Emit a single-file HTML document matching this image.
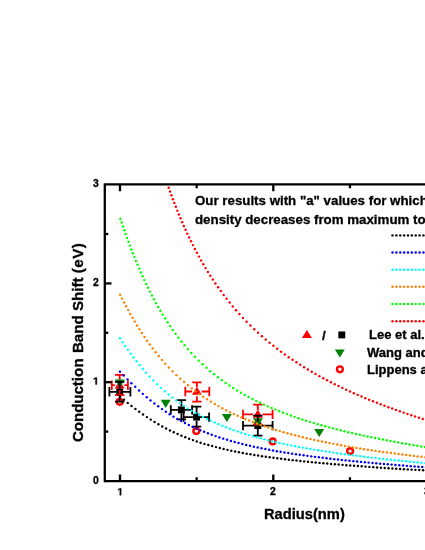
<!DOCTYPE html><html><head><meta charset="utf-8"><title>chart</title><style>
html,body{margin:0;padding:0;background:#fff}
body{width:425px;height:550px;position:relative;overflow:hidden;font-family:"Liberation Sans",sans-serif;font-weight:bold;color:#000}
.t{position:absolute;white-space:nowrap;line-height:1;will-change:transform;-webkit-text-stroke:0.3px #000}
.tk{font-size:10.4px}
</style></head><body>
<svg width="425" height="550" viewBox="0 0 425 550" style="position:absolute;left:0;top:0">
<rect x="0" y="0" width="425" height="550" fill="#fff"/>
<g fill="#000"><circle cx="392.50" cy="235.40" r="1.22"/><circle cx="396.37" cy="235.40" r="1.22"/><circle cx="400.24" cy="235.40" r="1.22"/><circle cx="404.11" cy="235.40" r="1.22"/><circle cx="407.98" cy="235.40" r="1.22"/><circle cx="411.85" cy="235.40" r="1.22"/><circle cx="415.72" cy="235.40" r="1.22"/><circle cx="419.59" cy="235.40" r="1.22"/><circle cx="423.46" cy="235.40" r="1.22"/><circle cx="427.33" cy="235.40" r="1.22"/></g>
<g fill="#0000ff"><circle cx="392.50" cy="252.50" r="1.22"/><circle cx="396.37" cy="252.50" r="1.22"/><circle cx="400.24" cy="252.50" r="1.22"/><circle cx="404.11" cy="252.50" r="1.22"/><circle cx="407.98" cy="252.50" r="1.22"/><circle cx="411.85" cy="252.50" r="1.22"/><circle cx="415.72" cy="252.50" r="1.22"/><circle cx="419.59" cy="252.50" r="1.22"/><circle cx="423.46" cy="252.50" r="1.22"/><circle cx="427.33" cy="252.50" r="1.22"/></g>
<g fill="#00ffff"><circle cx="392.50" cy="269.70" r="1.22"/><circle cx="396.37" cy="269.70" r="1.22"/><circle cx="400.24" cy="269.70" r="1.22"/><circle cx="404.11" cy="269.70" r="1.22"/><circle cx="407.98" cy="269.70" r="1.22"/><circle cx="411.85" cy="269.70" r="1.22"/><circle cx="415.72" cy="269.70" r="1.22"/><circle cx="419.59" cy="269.70" r="1.22"/><circle cx="423.46" cy="269.70" r="1.22"/><circle cx="427.33" cy="269.70" r="1.22"/></g>
<g fill="#ff8000"><circle cx="392.50" cy="286.80" r="1.22"/><circle cx="396.37" cy="286.80" r="1.22"/><circle cx="400.24" cy="286.80" r="1.22"/><circle cx="404.11" cy="286.80" r="1.22"/><circle cx="407.98" cy="286.80" r="1.22"/><circle cx="411.85" cy="286.80" r="1.22"/><circle cx="415.72" cy="286.80" r="1.22"/><circle cx="419.59" cy="286.80" r="1.22"/><circle cx="423.46" cy="286.80" r="1.22"/><circle cx="427.33" cy="286.80" r="1.22"/></g>
<g fill="#00ff00"><circle cx="392.50" cy="304.00" r="1.22"/><circle cx="396.37" cy="304.00" r="1.22"/><circle cx="400.24" cy="304.00" r="1.22"/><circle cx="404.11" cy="304.00" r="1.22"/><circle cx="407.98" cy="304.00" r="1.22"/><circle cx="411.85" cy="304.00" r="1.22"/><circle cx="415.72" cy="304.00" r="1.22"/><circle cx="419.59" cy="304.00" r="1.22"/><circle cx="423.46" cy="304.00" r="1.22"/><circle cx="427.33" cy="304.00" r="1.22"/></g>
<g fill="#ff0000"><circle cx="392.50" cy="321.20" r="1.22"/><circle cx="396.37" cy="321.20" r="1.22"/><circle cx="400.24" cy="321.20" r="1.22"/><circle cx="404.11" cy="321.20" r="1.22"/><circle cx="407.98" cy="321.20" r="1.22"/><circle cx="411.85" cy="321.20" r="1.22"/><circle cx="415.72" cy="321.20" r="1.22"/><circle cx="419.59" cy="321.20" r="1.22"/><circle cx="423.46" cy="321.20" r="1.22"/><circle cx="427.33" cy="321.20" r="1.22"/></g>
<circle cx="119.70" cy="401.80" r="2.9" fill="none" stroke="#ff0000" stroke-width="2.4"/>
<circle cx="196.30" cy="431.10" r="2.9" fill="none" stroke="#ff0000" stroke-width="2.4"/>
<circle cx="272.70" cy="441.40" r="2.9" fill="none" stroke="#ff0000" stroke-width="2.4"/>
<circle cx="350.10" cy="451.10" r="2.9" fill="none" stroke="#ff0000" stroke-width="2.4"/>
<rect x="116.25" y="388.35" width="6.90" height="6.90" fill="#000"/>
<rect x="177.95" y="406.45" width="6.90" height="6.90" fill="#000"/>
<rect x="193.15" y="413.65" width="6.90" height="6.90" fill="#000"/>
<rect x="254.35" y="422.15" width="6.90" height="6.90" fill="#000"/>
<g stroke="#ff0000" stroke-width="1.80" fill="none"><path d="M111.80 385.20H114.90 M124.50 385.20H127.90 M111.80 380.50V389.90 M127.90 380.50V389.90"/><path d="M119.70 374.90V380.80 M119.70 390.00V395.10 M115.00 374.90H124.40 M115.00 395.10H124.40"/></g>
<g stroke="#ff0000" stroke-width="1.80" fill="none"><path d="M185.30 391.50H192.10 M201.70 391.50H209.30 M185.30 386.80V396.20 M209.30 386.80V396.20"/><path d="M196.90 382.30V387.10 M196.90 396.30V401.60 M192.20 382.30H201.60 M192.20 401.60H201.60"/></g>
<g stroke="#ff0000" stroke-width="1.80" fill="none"><path d="M243.00 414.40H253.00 M262.60 414.40H272.60 M243.00 409.70V419.10 M272.60 409.70V419.10"/><path d="M257.80 404.70V410.00 M257.80 419.20V424.60 M253.10 404.70H262.50 M253.10 424.60H262.50"/></g>
<polygon points="119.70,380.40 114.70,388.50 124.70,388.50" fill="#ff0000"/>
<polygon points="196.90,386.70 191.90,394.80 201.90,394.80" fill="#ff0000"/>
<polygon points="257.80,409.60 252.80,417.70 262.80,417.70" fill="#ff0000"/>
<polygon points="114.90,379.40 124.90,379.40 119.90,387.50" fill="#008000"/>
<polygon points="160.70,399.80 170.70,399.80 165.70,407.90" fill="#008000"/>
<polygon points="221.90,413.90 231.90,413.90 226.90,422.00" fill="#008000"/>
<polygon points="252.90,418.20 262.90,418.20 257.90,426.30" fill="#008000"/>
<polygon points="314.20,429.00 324.20,429.00 319.20,437.10" fill="#008000"/>
<g stroke="#000" stroke-width="1.80" fill="none"><path d="M109.40 391.80H116.40 M123.00 391.80H130.40 M109.40 387.10V396.50 M130.40 387.10V396.50"/><path d="M119.70 381.90V388.50 M119.70 395.10V401.70 M115.00 381.90H124.40 M115.00 401.70H124.40"/></g>
<g stroke="#000" stroke-width="1.80" fill="none"><path d="M170.80 409.90H178.10 M184.70 409.90H192.10 M170.80 405.20V414.60 M192.10 405.20V414.60"/><path d="M181.40 400.10V406.60 M181.40 413.20V419.30 M176.70 400.10H186.10 M176.70 419.30H186.10"/></g>
<g stroke="#000" stroke-width="1.80" fill="none"><path d="M183.60 417.10H193.30 M199.90 417.10H209.10 M183.60 412.40V421.80 M209.10 412.40V421.80"/><path d="M196.60 406.60V413.80 M196.60 420.40V426.60 M191.90 406.60H201.30 M191.90 426.60H201.30"/></g>
<g stroke="#000" stroke-width="1.80" fill="none"><path d="M243.00 425.60H254.50 M261.10 425.60H272.60 M243.00 420.90V430.30 M272.60 420.90V430.30"/><path d="M257.80 415.70V422.30 M257.80 428.90V435.60 M253.10 415.70H262.50 M253.10 435.60H262.50"/></g>
<polygon points="306.90,329.90 301.90,338.00 311.90,338.00" fill="#ff0000"/>
<rect x="338.35" y="331.45" width="6.90" height="6.90" fill="#000"/>
<polygon points="334.80,349.50 344.80,349.50 339.80,357.60" fill="#008000"/>
<circle cx="339.90" cy="369.30" r="2.9" fill="none" stroke="#ff0000" stroke-width="2.4"/>
<g fill="#000"><circle cx="120.05" cy="396.68" r="1.22"/><circle cx="123.89" cy="399.81" r="1.22"/><circle cx="127.72" cy="402.90" r="1.22"/><circle cx="131.56" cy="405.93" r="1.22"/><circle cx="135.40" cy="408.88" r="1.22"/><circle cx="139.23" cy="411.73" r="1.22"/><circle cx="143.07" cy="414.48" r="1.22"/><circle cx="146.91" cy="417.11" r="1.22"/><circle cx="150.74" cy="419.62" r="1.22"/><circle cx="154.57" cy="422.02" r="1.22"/><circle cx="158.42" cy="424.30" r="1.22"/><circle cx="162.25" cy="426.46" r="1.22"/><circle cx="166.08" cy="428.51" r="1.22"/><circle cx="169.92" cy="430.45" r="1.22"/><circle cx="173.76" cy="432.29" r="1.22"/><circle cx="177.59" cy="434.03" r="1.22"/><circle cx="181.43" cy="435.68" r="1.22"/><circle cx="185.27" cy="437.24" r="1.22"/><circle cx="189.10" cy="438.72" r="1.22"/><circle cx="192.94" cy="440.12" r="1.22"/><circle cx="196.77" cy="441.44" r="1.22"/><circle cx="200.61" cy="442.70" r="1.22"/><circle cx="204.45" cy="443.89" r="1.22"/><circle cx="208.28" cy="445.01" r="1.22"/><circle cx="212.12" cy="446.08" r="1.22"/><circle cx="215.96" cy="447.10" r="1.22"/><circle cx="219.79" cy="448.07" r="1.22"/><circle cx="223.62" cy="448.99" r="1.22"/><circle cx="227.47" cy="449.86" r="1.22"/><circle cx="231.30" cy="450.70" r="1.22"/><circle cx="235.13" cy="451.49" r="1.22"/><circle cx="238.97" cy="452.25" r="1.22"/><circle cx="242.81" cy="452.98" r="1.22"/><circle cx="246.64" cy="453.67" r="1.22"/><circle cx="250.48" cy="454.34" r="1.22"/><circle cx="254.32" cy="454.97" r="1.22"/><circle cx="258.15" cy="455.58" r="1.22"/><circle cx="261.99" cy="456.17" r="1.22"/><circle cx="265.82" cy="456.73" r="1.22"/><circle cx="269.66" cy="457.27" r="1.22"/><circle cx="273.50" cy="457.80" r="1.22"/><circle cx="277.33" cy="458.30" r="1.22"/><circle cx="281.17" cy="458.79" r="1.22"/><circle cx="285.01" cy="459.26" r="1.22"/><circle cx="288.84" cy="459.71" r="1.22"/><circle cx="292.67" cy="460.15" r="1.22"/><circle cx="296.52" cy="460.57" r="1.22"/><circle cx="300.35" cy="460.99" r="1.22"/><circle cx="304.18" cy="461.39" r="1.22"/><circle cx="308.02" cy="461.78" r="1.22"/><circle cx="311.86" cy="462.15" r="1.22"/><circle cx="315.69" cy="462.52" r="1.22"/><circle cx="319.53" cy="462.88" r="1.22"/><circle cx="323.37" cy="463.23" r="1.22"/><circle cx="327.20" cy="463.57" r="1.22"/><circle cx="331.04" cy="463.91" r="1.22"/><circle cx="334.87" cy="464.23" r="1.22"/><circle cx="338.71" cy="464.55" r="1.22"/><circle cx="342.55" cy="464.86" r="1.22"/><circle cx="346.38" cy="465.17" r="1.22"/><circle cx="350.22" cy="465.47" r="1.22"/><circle cx="354.06" cy="465.76" r="1.22"/><circle cx="357.89" cy="466.05" r="1.22"/><circle cx="361.72" cy="466.33" r="1.22"/><circle cx="365.57" cy="466.61" r="1.22"/><circle cx="369.40" cy="466.89" r="1.22"/><circle cx="373.23" cy="467.15" r="1.22"/><circle cx="377.07" cy="467.42" r="1.22"/><circle cx="380.91" cy="467.68" r="1.22"/><circle cx="384.74" cy="467.94" r="1.22"/><circle cx="388.58" cy="468.19" r="1.22"/><circle cx="392.42" cy="468.44" r="1.22"/><circle cx="396.25" cy="468.68" r="1.22"/><circle cx="400.09" cy="468.92" r="1.22"/><circle cx="403.92" cy="469.16" r="1.22"/><circle cx="407.76" cy="469.40" r="1.22"/><circle cx="411.60" cy="469.63" r="1.22"/><circle cx="415.43" cy="469.86" r="1.22"/><circle cx="419.27" cy="470.08" r="1.22"/><circle cx="423.10" cy="470.31" r="1.22"/><circle cx="426.94" cy="470.53" r="1.22"/><circle cx="430.77" cy="470.74" r="1.22"/></g>
<g fill="#0000ff"><circle cx="119.95" cy="371.74" r="1.22"/><circle cx="123.76" cy="375.57" r="1.22"/><circle cx="127.58" cy="379.39" r="1.22"/><circle cx="131.41" cy="383.16" r="1.22"/><circle cx="135.23" cy="386.84" r="1.22"/><circle cx="139.06" cy="390.41" r="1.22"/><circle cx="142.88" cy="393.87" r="1.22"/><circle cx="146.72" cy="397.19" r="1.22"/><circle cx="150.54" cy="400.38" r="1.22"/><circle cx="154.36" cy="403.42" r="1.22"/><circle cx="158.19" cy="406.34" r="1.22"/><circle cx="162.02" cy="409.11" r="1.22"/><circle cx="165.84" cy="411.75" r="1.22"/><circle cx="169.67" cy="414.26" r="1.22"/><circle cx="173.49" cy="416.64" r="1.22"/><circle cx="177.33" cy="418.91" r="1.22"/><circle cx="181.15" cy="421.06" r="1.22"/><circle cx="184.97" cy="423.09" r="1.22"/><circle cx="188.80" cy="425.03" r="1.22"/><circle cx="192.63" cy="426.87" r="1.22"/><circle cx="196.45" cy="428.61" r="1.22"/><circle cx="200.28" cy="430.27" r="1.22"/><circle cx="204.10" cy="431.84" r="1.22"/><circle cx="207.94" cy="433.34" r="1.22"/><circle cx="211.76" cy="434.76" r="1.22"/><circle cx="215.58" cy="436.12" r="1.22"/><circle cx="219.41" cy="437.41" r="1.22"/><circle cx="223.24" cy="438.64" r="1.22"/><circle cx="227.06" cy="439.81" r="1.22"/><circle cx="230.89" cy="440.93" r="1.22"/><circle cx="234.71" cy="441.99" r="1.22"/><circle cx="238.55" cy="443.02" r="1.22"/><circle cx="242.37" cy="443.99" r="1.22"/><circle cx="246.19" cy="444.93" r="1.22"/><circle cx="250.02" cy="445.82" r="1.22"/><circle cx="253.85" cy="446.68" r="1.22"/><circle cx="257.67" cy="447.50" r="1.22"/><circle cx="261.50" cy="448.30" r="1.22"/><circle cx="265.33" cy="449.06" r="1.22"/><circle cx="269.16" cy="449.79" r="1.22"/><circle cx="272.98" cy="450.49" r="1.22"/><circle cx="276.80" cy="451.17" r="1.22"/><circle cx="280.63" cy="451.83" r="1.22"/><circle cx="284.46" cy="452.46" r="1.22"/><circle cx="288.28" cy="453.07" r="1.22"/><circle cx="292.11" cy="453.66" r="1.22"/><circle cx="295.94" cy="454.24" r="1.22"/><circle cx="299.77" cy="454.79" r="1.22"/><circle cx="303.59" cy="455.33" r="1.22"/><circle cx="307.41" cy="455.85" r="1.22"/><circle cx="311.24" cy="456.36" r="1.22"/><circle cx="315.07" cy="456.85" r="1.22"/><circle cx="318.89" cy="457.33" r="1.22"/><circle cx="322.72" cy="457.80" r="1.22"/><circle cx="326.55" cy="458.26" r="1.22"/><circle cx="330.38" cy="458.70" r="1.22"/><circle cx="334.20" cy="459.13" r="1.22"/><circle cx="338.02" cy="459.55" r="1.22"/><circle cx="341.85" cy="459.97" r="1.22"/><circle cx="345.68" cy="460.37" r="1.22"/><circle cx="349.50" cy="460.76" r="1.22"/><circle cx="353.33" cy="461.15" r="1.22"/><circle cx="357.16" cy="461.53" r="1.22"/><circle cx="360.99" cy="461.90" r="1.22"/><circle cx="364.81" cy="462.26" r="1.22"/><circle cx="368.63" cy="462.62" r="1.22"/><circle cx="372.46" cy="462.97" r="1.22"/><circle cx="376.29" cy="463.31" r="1.22"/><circle cx="380.11" cy="463.65" r="1.22"/><circle cx="383.94" cy="463.98" r="1.22"/><circle cx="387.77" cy="464.30" r="1.22"/><circle cx="391.60" cy="464.62" r="1.22"/><circle cx="395.42" cy="464.94" r="1.22"/><circle cx="399.24" cy="465.25" r="1.22"/><circle cx="403.08" cy="465.55" r="1.22"/><circle cx="406.90" cy="465.85" r="1.22"/><circle cx="410.72" cy="466.15" r="1.22"/><circle cx="414.55" cy="466.44" r="1.22"/><circle cx="418.38" cy="466.72" r="1.22"/><circle cx="422.20" cy="467.01" r="1.22"/><circle cx="426.03" cy="467.28" r="1.22"/><circle cx="429.85" cy="467.56" r="1.22"/></g>
<g fill="#00ffff"><circle cx="120.06" cy="338.31" r="1.22"/><circle cx="122.62" cy="342.14" r="1.22"/><circle cx="125.24" cy="345.98" r="1.22"/><circle cx="127.93" cy="349.81" r="1.22"/><circle cx="130.70" cy="353.64" r="1.22"/><circle cx="133.56" cy="357.47" r="1.22"/><circle cx="136.52" cy="361.31" r="1.22"/><circle cx="139.59" cy="365.14" r="1.22"/><circle cx="142.78" cy="368.97" r="1.22"/><circle cx="146.12" cy="372.80" r="1.22"/><circle cx="149.61" cy="376.63" r="1.22"/><circle cx="153.27" cy="380.46" r="1.22"/><circle cx="157.10" cy="384.26" r="1.22"/><circle cx="160.92" cy="387.86" r="1.22"/><circle cx="164.76" cy="391.28" r="1.22"/><circle cx="168.59" cy="394.52" r="1.22"/><circle cx="172.42" cy="397.59" r="1.22"/><circle cx="176.25" cy="400.50" r="1.22"/><circle cx="180.09" cy="403.26" r="1.22"/><circle cx="183.92" cy="405.87" r="1.22"/><circle cx="187.75" cy="408.35" r="1.22"/><circle cx="191.58" cy="410.70" r="1.22"/><circle cx="195.42" cy="412.94" r="1.22"/><circle cx="199.24" cy="415.06" r="1.22"/><circle cx="203.08" cy="417.08" r="1.22"/><circle cx="206.91" cy="419.00" r="1.22"/><circle cx="210.74" cy="420.83" r="1.22"/><circle cx="214.57" cy="422.57" r="1.22"/><circle cx="218.41" cy="424.23" r="1.22"/><circle cx="222.24" cy="425.81" r="1.22"/><circle cx="226.07" cy="427.33" r="1.22"/><circle cx="229.90" cy="428.77" r="1.22"/><circle cx="233.73" cy="430.15" r="1.22"/><circle cx="237.57" cy="431.48" r="1.22"/><circle cx="241.39" cy="432.74" r="1.22"/><circle cx="245.23" cy="433.96" r="1.22"/><circle cx="249.06" cy="435.12" r="1.22"/><circle cx="252.89" cy="436.24" r="1.22"/><circle cx="256.72" cy="437.32" r="1.22"/><circle cx="260.56" cy="438.35" r="1.22"/><circle cx="264.39" cy="439.35" r="1.22"/><circle cx="268.22" cy="440.31" r="1.22"/><circle cx="272.05" cy="441.23" r="1.22"/><circle cx="275.89" cy="442.13" r="1.22"/><circle cx="279.72" cy="442.99" r="1.22"/><circle cx="283.55" cy="443.82" r="1.22"/><circle cx="287.38" cy="444.62" r="1.22"/><circle cx="291.22" cy="445.40" r="1.22"/><circle cx="295.04" cy="446.16" r="1.22"/><circle cx="298.88" cy="446.89" r="1.22"/><circle cx="302.71" cy="447.60" r="1.22"/><circle cx="306.54" cy="448.29" r="1.22"/><circle cx="310.37" cy="448.96" r="1.22"/><circle cx="314.21" cy="449.61" r="1.22"/><circle cx="318.04" cy="450.24" r="1.22"/><circle cx="321.87" cy="450.85" r="1.22"/><circle cx="325.70" cy="451.45" r="1.22"/><circle cx="329.54" cy="452.04" r="1.22"/><circle cx="333.37" cy="452.61" r="1.22"/><circle cx="337.20" cy="453.16" r="1.22"/><circle cx="341.03" cy="453.70" r="1.22"/><circle cx="344.87" cy="454.23" r="1.22"/><circle cx="348.69" cy="454.75" r="1.22"/><circle cx="352.53" cy="455.25" r="1.22"/><circle cx="356.36" cy="455.75" r="1.22"/><circle cx="360.19" cy="456.23" r="1.22"/><circle cx="364.02" cy="456.70" r="1.22"/><circle cx="367.86" cy="457.17" r="1.22"/><circle cx="371.69" cy="457.62" r="1.22"/><circle cx="375.52" cy="458.07" r="1.22"/><circle cx="379.35" cy="458.50" r="1.22"/><circle cx="383.19" cy="458.93" r="1.22"/><circle cx="387.01" cy="459.35" r="1.22"/><circle cx="390.85" cy="459.76" r="1.22"/><circle cx="394.68" cy="460.17" r="1.22"/><circle cx="398.51" cy="460.56" r="1.22"/><circle cx="402.34" cy="460.95" r="1.22"/><circle cx="406.18" cy="461.34" r="1.22"/><circle cx="410.01" cy="461.71" r="1.22"/><circle cx="413.84" cy="462.08" r="1.22"/><circle cx="417.67" cy="462.44" r="1.22"/><circle cx="421.50" cy="462.80" r="1.22"/><circle cx="425.33" cy="463.15" r="1.22"/><circle cx="429.16" cy="463.50" r="1.22"/></g>
<g fill="#ff8000"><circle cx="120.12" cy="294.78" r="1.22"/><circle cx="122.06" cy="298.61" r="1.22"/><circle cx="124.05" cy="302.44" r="1.22"/><circle cx="126.08" cy="306.28" r="1.22"/><circle cx="128.16" cy="310.10" r="1.22"/><circle cx="130.30" cy="313.93" r="1.22"/><circle cx="132.49" cy="317.76" r="1.22"/><circle cx="134.74" cy="321.59" r="1.22"/><circle cx="137.06" cy="325.42" r="1.22"/><circle cx="139.45" cy="329.25" r="1.22"/><circle cx="141.91" cy="333.07" r="1.22"/><circle cx="144.47" cy="336.91" r="1.22"/><circle cx="147.11" cy="340.74" r="1.22"/><circle cx="149.85" cy="344.56" r="1.22"/><circle cx="152.70" cy="348.39" r="1.22"/><circle cx="155.66" cy="352.22" r="1.22"/><circle cx="158.75" cy="356.06" r="1.22"/><circle cx="161.96" cy="359.88" r="1.22"/><circle cx="165.33" cy="363.71" r="1.22"/><circle cx="168.86" cy="367.54" r="1.22"/><circle cx="172.58" cy="371.37" r="1.22"/><circle cx="176.41" cy="375.13" r="1.22"/><circle cx="180.23" cy="378.69" r="1.22"/><circle cx="184.06" cy="382.08" r="1.22"/><circle cx="187.90" cy="385.30" r="1.22"/><circle cx="191.72" cy="388.37" r="1.22"/><circle cx="195.55" cy="391.28" r="1.22"/><circle cx="199.39" cy="394.06" r="1.22"/><circle cx="203.22" cy="396.70" r="1.22"/><circle cx="207.04" cy="399.22" r="1.22"/><circle cx="210.87" cy="401.63" r="1.22"/><circle cx="214.71" cy="403.93" r="1.22"/><circle cx="218.53" cy="406.12" r="1.22"/><circle cx="222.36" cy="408.21" r="1.22"/><circle cx="226.20" cy="410.22" r="1.22"/><circle cx="230.02" cy="412.14" r="1.22"/><circle cx="233.85" cy="413.97" r="1.22"/><circle cx="237.68" cy="415.73" r="1.22"/><circle cx="241.51" cy="417.42" r="1.22"/><circle cx="245.34" cy="419.04" r="1.22"/><circle cx="249.17" cy="420.59" r="1.22"/><circle cx="253.00" cy="422.09" r="1.22"/><circle cx="256.83" cy="423.53" r="1.22"/><circle cx="260.66" cy="424.91" r="1.22"/><circle cx="264.49" cy="426.24" r="1.22"/><circle cx="268.32" cy="427.52" r="1.22"/><circle cx="272.15" cy="428.76" r="1.22"/><circle cx="275.98" cy="429.95" r="1.22"/><circle cx="279.80" cy="431.10" r="1.22"/><circle cx="283.64" cy="432.21" r="1.22"/><circle cx="287.47" cy="433.29" r="1.22"/><circle cx="291.29" cy="434.33" r="1.22"/><circle cx="295.12" cy="435.33" r="1.22"/><circle cx="298.96" cy="436.30" r="1.22"/><circle cx="302.78" cy="437.25" r="1.22"/><circle cx="306.61" cy="438.16" r="1.22"/><circle cx="310.45" cy="439.05" r="1.22"/><circle cx="314.28" cy="439.91" r="1.22"/><circle cx="318.10" cy="440.74" r="1.22"/><circle cx="321.93" cy="441.55" r="1.22"/><circle cx="325.77" cy="442.34" r="1.22"/><circle cx="329.59" cy="443.11" r="1.22"/><circle cx="333.42" cy="443.85" r="1.22"/><circle cx="337.25" cy="444.57" r="1.22"/><circle cx="341.08" cy="445.28" r="1.22"/><circle cx="344.91" cy="445.97" r="1.22"/><circle cx="348.74" cy="446.64" r="1.22"/><circle cx="352.57" cy="447.29" r="1.22"/><circle cx="356.40" cy="447.93" r="1.22"/><circle cx="360.23" cy="448.55" r="1.22"/><circle cx="364.06" cy="449.16" r="1.22"/><circle cx="367.89" cy="449.75" r="1.22"/><circle cx="371.72" cy="450.33" r="1.22"/><circle cx="375.55" cy="450.90" r="1.22"/><circle cx="379.37" cy="451.45" r="1.22"/><circle cx="383.21" cy="451.99" r="1.22"/><circle cx="387.04" cy="452.52" r="1.22"/><circle cx="390.86" cy="453.04" r="1.22"/><circle cx="394.70" cy="453.54" r="1.22"/><circle cx="398.53" cy="454.04" r="1.22"/><circle cx="402.35" cy="454.53" r="1.22"/><circle cx="406.18" cy="455.00" r="1.22"/><circle cx="410.02" cy="455.47" r="1.22"/><circle cx="413.84" cy="455.93" r="1.22"/><circle cx="417.67" cy="456.37" r="1.22"/><circle cx="421.50" cy="456.81" r="1.22"/><circle cx="425.33" cy="457.25" r="1.22"/><circle cx="429.16" cy="457.67" r="1.22"/></g>
<g fill="#00ff00"><circle cx="120.34" cy="218.73" r="1.22"/><circle cx="121.64" cy="222.57" r="1.22"/><circle cx="122.97" cy="226.42" r="1.22"/><circle cx="124.31" cy="230.25" r="1.22"/><circle cx="125.67" cy="234.08" r="1.22"/><circle cx="127.06" cy="237.92" r="1.22"/><circle cx="128.47" cy="241.75" r="1.22"/><circle cx="129.92" cy="245.60" r="1.22"/><circle cx="131.38" cy="249.43" r="1.22"/><circle cx="132.88" cy="253.25" r="1.22"/><circle cx="134.42" cy="257.10" r="1.22"/><circle cx="135.98" cy="260.93" r="1.22"/><circle cx="137.58" cy="264.77" r="1.22"/><circle cx="139.22" cy="268.61" r="1.22"/><circle cx="140.89" cy="272.43" r="1.22"/><circle cx="142.61" cy="276.28" r="1.22"/><circle cx="144.37" cy="280.11" r="1.22"/><circle cx="146.19" cy="283.95" r="1.22"/><circle cx="148.04" cy="287.79" r="1.22"/><circle cx="149.95" cy="291.62" r="1.22"/><circle cx="151.92" cy="295.45" r="1.22"/><circle cx="153.94" cy="299.29" r="1.22"/><circle cx="156.03" cy="303.13" r="1.22"/><circle cx="158.18" cy="306.96" r="1.22"/><circle cx="160.41" cy="310.80" r="1.22"/><circle cx="162.71" cy="314.63" r="1.22"/><circle cx="165.10" cy="318.47" r="1.22"/><circle cx="167.56" cy="322.31" r="1.22"/><circle cx="170.12" cy="326.13" r="1.22"/><circle cx="172.78" cy="329.97" r="1.22"/><circle cx="175.55" cy="333.81" r="1.22"/><circle cx="178.43" cy="337.64" r="1.22"/><circle cx="181.44" cy="341.48" r="1.22"/><circle cx="184.58" cy="345.31" r="1.22"/><circle cx="187.87" cy="349.15" r="1.22"/><circle cx="191.32" cy="352.98" r="1.22"/><circle cx="194.93" cy="356.82" r="1.22"/><circle cx="198.73" cy="360.65" r="1.22"/><circle cx="202.57" cy="364.32" r="1.22"/><circle cx="206.40" cy="367.81" r="1.22"/><circle cx="210.24" cy="371.13" r="1.22"/><circle cx="214.07" cy="374.29" r="1.22"/><circle cx="217.91" cy="377.30" r="1.22"/><circle cx="221.75" cy="380.17" r="1.22"/><circle cx="225.58" cy="382.91" r="1.22"/><circle cx="229.42" cy="385.53" r="1.22"/><circle cx="233.25" cy="388.03" r="1.22"/><circle cx="237.09" cy="390.42" r="1.22"/><circle cx="240.93" cy="392.71" r="1.22"/><circle cx="244.76" cy="394.90" r="1.22"/><circle cx="248.60" cy="397.01" r="1.22"/><circle cx="252.43" cy="399.02" r="1.22"/><circle cx="256.27" cy="400.96" r="1.22"/><circle cx="260.11" cy="402.83" r="1.22"/><circle cx="263.93" cy="404.62" r="1.22"/><circle cx="267.77" cy="406.35" r="1.22"/><circle cx="271.61" cy="408.01" r="1.22"/><circle cx="275.44" cy="409.61" r="1.22"/><circle cx="279.28" cy="411.16" r="1.22"/><circle cx="283.11" cy="412.66" r="1.22"/><circle cx="286.95" cy="414.10" r="1.22"/><circle cx="290.79" cy="415.50" r="1.22"/><circle cx="294.62" cy="416.86" r="1.22"/><circle cx="298.46" cy="418.17" r="1.22"/><circle cx="302.29" cy="419.44" r="1.22"/><circle cx="306.13" cy="420.67" r="1.22"/><circle cx="309.97" cy="421.86" r="1.22"/><circle cx="313.80" cy="423.03" r="1.22"/><circle cx="317.64" cy="424.16" r="1.22"/><circle cx="321.47" cy="425.25" r="1.22"/><circle cx="325.31" cy="426.32" r="1.22"/><circle cx="329.15" cy="427.36" r="1.22"/><circle cx="332.98" cy="428.37" r="1.22"/><circle cx="336.82" cy="429.36" r="1.22"/><circle cx="340.65" cy="430.33" r="1.22"/><circle cx="344.49" cy="431.27" r="1.22"/><circle cx="348.32" cy="432.18" r="1.22"/><circle cx="352.16" cy="433.08" r="1.22"/><circle cx="356.00" cy="433.96" r="1.22"/><circle cx="359.83" cy="434.81" r="1.22"/><circle cx="363.67" cy="435.65" r="1.22"/><circle cx="367.50" cy="436.47" r="1.22"/><circle cx="371.34" cy="437.27" r="1.22"/><circle cx="375.18" cy="438.06" r="1.22"/><circle cx="379.01" cy="438.83" r="1.22"/><circle cx="382.85" cy="439.59" r="1.22"/><circle cx="386.68" cy="440.33" r="1.22"/><circle cx="390.52" cy="441.06" r="1.22"/><circle cx="394.36" cy="441.77" r="1.22"/><circle cx="398.19" cy="442.47" r="1.22"/><circle cx="402.03" cy="443.16" r="1.22"/><circle cx="405.86" cy="443.83" r="1.22"/><circle cx="409.70" cy="444.49" r="1.22"/><circle cx="413.54" cy="445.14" r="1.22"/><circle cx="417.37" cy="445.79" r="1.22"/><circle cx="421.20" cy="446.41" r="1.22"/><circle cx="425.04" cy="447.03" r="1.22"/><circle cx="428.87" cy="447.64" r="1.22"/></g>
<g fill="#ff0000"><circle cx="168.68" cy="187.66" r="1.22"/><circle cx="170.05" cy="191.51" r="1.22"/><circle cx="171.44" cy="195.33" r="1.22"/><circle cx="172.87" cy="199.16" r="1.22"/><circle cx="174.33" cy="203.00" r="1.22"/><circle cx="175.83" cy="206.83" r="1.22"/><circle cx="177.35" cy="210.65" r="1.22"/><circle cx="178.91" cy="214.48" r="1.22"/><circle cx="180.51" cy="218.31" r="1.22"/><circle cx="182.15" cy="222.14" r="1.22"/><circle cx="183.84" cy="225.97" r="1.22"/><circle cx="185.56" cy="229.80" r="1.22"/><circle cx="187.33" cy="233.64" r="1.22"/><circle cx="189.14" cy="237.46" r="1.22"/><circle cx="191.00" cy="241.29" r="1.22"/><circle cx="192.92" cy="245.12" r="1.22"/><circle cx="194.89" cy="248.96" r="1.22"/><circle cx="196.91" cy="252.79" r="1.22"/><circle cx="198.98" cy="256.62" r="1.22"/><circle cx="201.12" cy="260.45" r="1.22"/><circle cx="203.32" cy="264.27" r="1.22"/><circle cx="205.60" cy="268.11" r="1.22"/><circle cx="207.93" cy="271.94" r="1.22"/><circle cx="210.34" cy="275.76" r="1.22"/><circle cx="212.83" cy="279.59" r="1.22"/><circle cx="215.41" cy="283.43" r="1.22"/><circle cx="218.06" cy="287.26" r="1.22"/><circle cx="220.81" cy="291.09" r="1.22"/><circle cx="223.65" cy="294.92" r="1.22"/><circle cx="226.59" cy="298.75" r="1.22"/><circle cx="229.63" cy="302.58" r="1.22"/><circle cx="232.78" cy="306.41" r="1.22"/><circle cx="236.05" cy="310.24" r="1.22"/><circle cx="239.45" cy="314.07" r="1.22"/><circle cx="242.98" cy="317.90" r="1.22"/><circle cx="246.64" cy="321.73" r="1.22"/><circle cx="250.44" cy="325.55" r="1.22"/><circle cx="254.27" cy="329.25" r="1.22"/><circle cx="258.10" cy="332.81" r="1.22"/><circle cx="261.93" cy="336.25" r="1.22"/><circle cx="265.76" cy="339.56" r="1.22"/><circle cx="269.59" cy="342.75" r="1.22"/><circle cx="273.42" cy="345.83" r="1.22"/><circle cx="277.25" cy="348.81" r="1.22"/><circle cx="281.08" cy="351.70" r="1.22"/><circle cx="284.91" cy="354.48" r="1.22"/><circle cx="288.74" cy="357.19" r="1.22"/><circle cx="292.58" cy="359.80" r="1.22"/><circle cx="296.40" cy="362.34" r="1.22"/><circle cx="300.23" cy="364.80" r="1.22"/><circle cx="304.06" cy="367.20" r="1.22"/><circle cx="307.89" cy="369.52" r="1.22"/><circle cx="311.72" cy="371.78" r="1.22"/><circle cx="315.55" cy="373.99" r="1.22"/><circle cx="319.39" cy="376.13" r="1.22"/><circle cx="323.22" cy="378.21" r="1.22"/><circle cx="327.05" cy="380.25" r="1.22"/><circle cx="330.88" cy="382.23" r="1.22"/><circle cx="334.71" cy="384.17" r="1.22"/><circle cx="338.53" cy="386.06" r="1.22"/><circle cx="342.36" cy="387.90" r="1.22"/><circle cx="346.20" cy="389.70" r="1.22"/><circle cx="350.03" cy="391.47" r="1.22"/><circle cx="353.86" cy="393.19" r="1.22"/><circle cx="357.69" cy="394.88" r="1.22"/><circle cx="361.52" cy="396.53" r="1.22"/><circle cx="365.35" cy="398.14" r="1.22"/><circle cx="369.18" cy="399.72" r="1.22"/><circle cx="373.01" cy="401.27" r="1.22"/><circle cx="376.84" cy="402.79" r="1.22"/><circle cx="380.67" cy="404.28" r="1.22"/><circle cx="384.50" cy="405.74" r="1.22"/><circle cx="388.33" cy="407.17" r="1.22"/><circle cx="392.16" cy="408.58" r="1.22"/><circle cx="395.99" cy="409.96" r="1.22"/><circle cx="399.82" cy="411.31" r="1.22"/><circle cx="403.65" cy="412.64" r="1.22"/><circle cx="407.48" cy="413.95" r="1.22"/><circle cx="411.31" cy="415.23" r="1.22"/><circle cx="415.14" cy="416.49" r="1.22"/><circle cx="418.98" cy="417.72" r="1.22"/><circle cx="422.80" cy="418.94" r="1.22"/><circle cx="426.63" cy="420.13" r="1.22"/><circle cx="430.46" cy="421.31" r="1.22"/></g>
<polygon points="95.47,384.60 95.47,378.66 93.76,379.73 93.76,378.61 95.55,377.44 96.90,377.44 96.90,384.60" fill="#000" stroke="#000" stroke-width="0.3"/>
<polygon points="119.77,495.30 119.77,489.36 118.06,490.43 118.06,489.31 119.85,488.14 121.20,488.14 121.20,495.30" fill="#000" stroke="#000" stroke-width="0.3"/>
<g stroke="#000" stroke-width="2.3" fill="none">
<path d="M104.80 183.40V482.15"/>
<path d="M104.80 184.45H430"/>
<path d="M104.80 481.10H430"/>
<path d="M120.00 481.10v-6.70 M120.00 184.45v6.70"/>
<path d="M273.30 481.10v-6.70 M273.30 184.45v6.70"/>
<path d="M426.60 481.10v-6.70 M426.60 184.45v6.70"/>
<path d="M196.65 481.10v-3.80 M196.65 184.45v3.80"/>
<path d="M349.95 481.10v-3.80 M349.95 184.45v3.80"/>
<path d="M104.80 382.20h6.70"/>
<path d="M104.80 283.40h6.70"/>
<path d="M104.80 431.60h3.50"/>
<path d="M104.80 332.80h3.50"/>
<path d="M104.80 234.00h3.50"/>
</g>
</svg>
<div class="t tk" style="right:326.7px;top:179.4px">3</div>
<div class="t tk" style="right:326.7px;top:278.1px">2</div>
<div class="t tk" style="right:326.7px;top:476.0px">0</div>
<div class="t tk" style="left:263.4px;top:486.9px;width:20px;text-align:center">2</div>
<div class="t tk" style="left:417.1px;top:486.9px;width:20px;text-align:center">3</div>
<div class="t" id="xl" style="left:263.8px;top:507.1px;font-size:14.7px">Radius(nm)</div>
<div class="t" id="yl" style="left:69.9px;top:442px;font-size:15.15px;transform-origin:0 0;transform:rotate(-90deg)"><span id="w1"><span style="letter-spacing:-0.1px">Conduct</span><span style="letter-spacing:0.2px">ion</span></span><span style="margin-left:0.7px"> </span><span id="w2">Band</span> <span id="w3">Shift</span> <span id="w4" style="letter-spacing:0.45px">(eV)</span></div>
<div class="t" id="l1" style="left:195.3px;top:194.2px;font-size:13.3px">Our results with "a" values for which the</div>
<div class="t" id="l2" style="left:195.4px;top:212.6px;font-size:13.3px">density decreases from maximum to zero</div>
<div class="t" id="g1" style="left:368.7px;top:328.4px;font-size:13px">Lee et al.</div>
<div class="t" id="g2" style="left:366.8px;top:346.1px;font-size:13px">Wang and Zunger</div>
<div class="t" id="g3" style="left:366.8px;top:362.8px;font-size:13px">Lippens and Lannoo</div>
<div class="t" id="sl" style="left:322.4px;top:328.8px;font-size:13.4px">/</div>
</body></html>
